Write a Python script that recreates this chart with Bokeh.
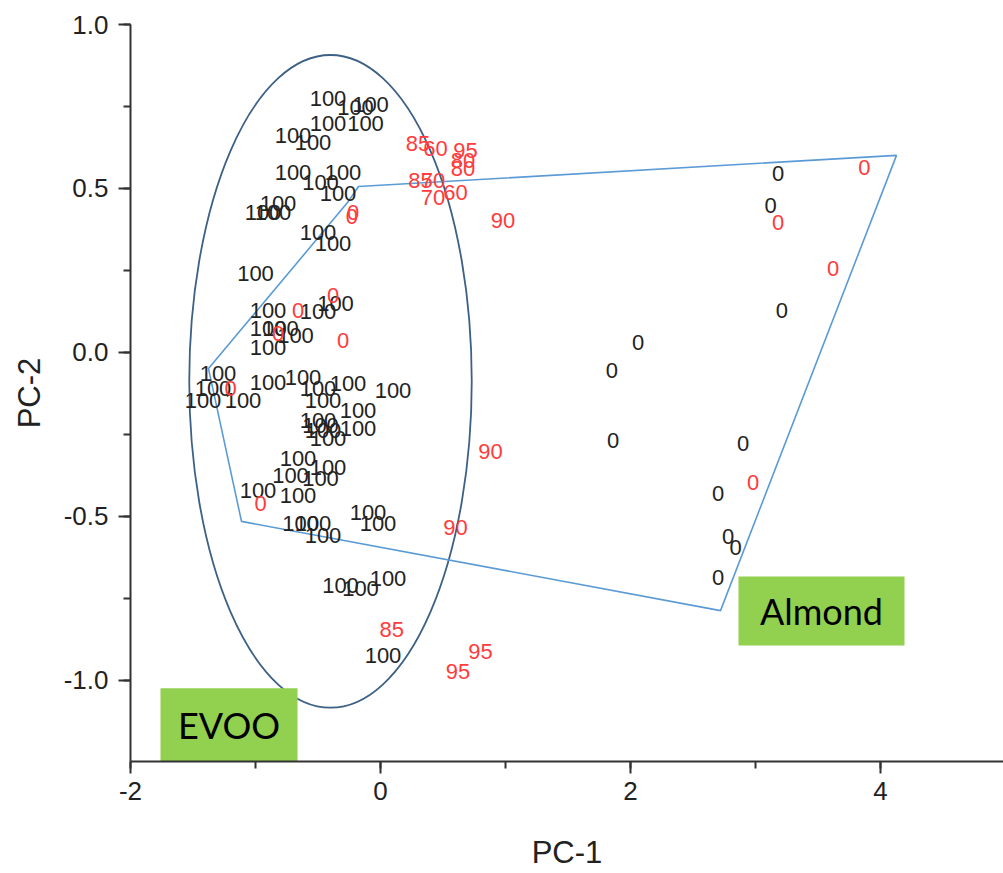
from bokeh.plotting import figure
from bokeh.models import SingleIntervalTicker, PrintfTickFormatter, ColumnDataSource
from bokeh.core.properties import value
from bokeh.embed import file_html
from bokeh.resources import INLINE

# Reference samples (black): EVOO = 100, almond = 0
ref_pc1 = [-0.42, -0.20, -0.08, -0.42, -0.12, -0.70, -0.54, -0.70, -0.30, -0.48,
           -0.34, -0.82, -0.94, -0.86, -0.50, -0.38, -1.00, -0.90, -0.50, -0.36,
           -0.90, -0.80, -0.68, -0.90, -1.30, -1.34, -1.42, -1.10, -0.90, -0.62,
           -0.50, -0.26, 0.10, -0.46, -0.18, -0.50, -0.18, -0.46, -0.42, -0.48,
           -0.66, -0.42, -0.72, -0.48, -0.98, -0.66, -0.64, -0.54, -0.46, -0.10,
           -0.02, -0.32, -0.16, 0.06, 0.02,
           3.18, 3.12, 3.21, 2.06, 1.85, 1.86, 2.90, 2.70, 2.78, 2.84, 2.70]
ref_pc2 = [0.774, 0.747, 0.756, 0.698, 0.698, 0.662, 0.640, 0.549, 0.549, 0.518,
           0.485, 0.454, 0.427, 0.427, 0.366, 0.332, 0.241, 0.128, 0.125, 0.149,
           0.073, 0.073, 0.052, 0.015, -0.064, -0.110, -0.146, -0.146, -0.091, -0.076,
           -0.110, -0.095, -0.116, -0.146, -0.177, -0.207, -0.232, -0.238, -0.262, -0.223,
           -0.323, -0.351, -0.375, -0.384, -0.421, -0.436, -0.521, -0.521, -0.558, -0.488,
           -0.521, -0.710, -0.720, -0.689, -0.924,
           0.546, 0.448, 0.128, 0.030, -0.055, -0.268, -0.277, -0.430, -0.561, -0.595, -0.686]
ref_label = ["100"] * 55 + ["0"] * 11

# Test samples (red): EVOO percentage in blends
test_pc1 = [0.30, 0.44, 0.68, 0.66, 0.66, 0.32, 0.42, 0.42, 0.60, -0.22,
            -0.23, 0.98, -0.38, -0.66, -0.82, -0.30, -1.20, 0.88, -0.96, 0.60,
            0.09, 0.80, 0.62, 3.87, 3.18, 3.62, 2.98]
test_pc2 = [0.637, 0.622, 0.616, 0.585, 0.561, 0.524, 0.524, 0.473, 0.488, 0.427,
            0.415, 0.402, 0.174, 0.128, 0.058, 0.037, -0.110, -0.302, -0.460, -0.534,
            -0.845, -0.912, -0.973, 0.564, 0.396, 0.256, -0.396]
test_label = ["85", "60", "95", "80", "80", "85", "70", "70", "60", "0",
              "0", "90", "0", "0", "0", "0", "0", "90", "0", "90",
              "85", "95", "95", "0", "0", "0", "0"]

# EVOO confidence ellipse (center, width, height) and almond hull
ell_pc1, ell_pc2, ell_w, ell_h = -0.40, -0.088, 2.26, 1.99
hull_pc1 = [-0.176, 4.128, 2.72, -1.112, -1.376, -0.264]
hull_pc2 = [0.506, 0.601, -0.787, -0.515, -0.049, 0.457]

# Class tags
tag_text = ["EVOO", "Almond"]
tag_left = [-1.76, 2.864]
tag_right = [-0.664, 4.192]
tag_top = [-1.024, -0.683]
tag_bottom = [-1.25, -0.893]

p = figure(width=1003, height=873, output_backend="svg", toolbar_location=None,
           x_range=(-2, 4.984), y_range=(-1.247, 1.0),
           min_border_left=130, min_border_right=0, min_border_top=24, min_border_bottom=112)
p.outline_line_color = None
p.xgrid.visible = False
p.ygrid.visible = False
p.background_fill_color = "white"

p.ellipse(x=ell_pc1, y=ell_pc2, width=ell_w, height=ell_h, fill_color=None,
          line_color="#3d6185", line_width=1.8)
p.patch(x=hull_pc1, y=hull_pc2, fill_alpha=0, line_color="#5b9bd5", line_width=1.6)

tags = ColumnDataSource(dict(l=tag_left, r=tag_right, t=tag_top, b=tag_bottom, txt=tag_text,
                             cx=[(a + b) / 2 for a, b in zip(tag_left, tag_right)],
                             cy=[(a + b) / 2 for a, b in zip(tag_top, tag_bottom)]))
p.quad(left="l", right="r", top="t", bottom="b", source=tags, fill_color="#92d050", line_color=None)
p.text(x="cx", y="cy", text="txt", source=tags, text_font=value("Lato"), text_font_size="36px",
       text_align="center", text_baseline="middle", text_color="black")

p.text(x=ref_pc1, y=ref_pc2, text=ref_label, text_font=value("Liberation Sans"),
       text_font_size="22px", text_align="center", text_baseline="middle", text_color="#222222")
p.text(x=test_pc1, y=test_pc2, text=test_label, text_font=value("Liberation Sans"),
       text_font_size="22px", text_align="center", text_baseline="middle", text_color="#ff3b3b")

for ax in (p.xaxis[0], p.yaxis[0]):
    ax.axis_line_color = "#333333"
    ax.axis_line_width = 2
    ax.major_tick_line_color = "#333333"
    ax.minor_tick_line_color = "#333333"
    ax.major_tick_line_width = 2
    ax.minor_tick_line_width = 2
    ax.major_tick_out = 12
    ax.major_tick_in = 0
    ax.minor_tick_out = 7
    ax.minor_tick_in = 0
    ax.major_label_text_font = "Liberation Sans"
    ax.major_label_text_font_size = "26px"
    ax.major_label_text_color = "#222222"
    ax.axis_label_text_font = "Liberation Sans"
    ax.axis_label_text_font_size = "31px"
    ax.axis_label_text_font_style = "normal"
    ax.axis_label_text_color = "#222222"

p.xaxis.ticker = SingleIntervalTicker(interval=2, num_minor_ticks=2)
p.yaxis.ticker = SingleIntervalTicker(interval=0.5, num_minor_ticks=2)
p.xaxis.formatter = PrintfTickFormatter(format="%d")
p.yaxis.formatter = PrintfTickFormatter(format="%.1f")
p.xaxis.axis_label = "PC-1"
p.yaxis.axis_label = "PC-2"
p.xaxis.major_label_standoff = 8
p.yaxis.major_label_standoff = 10
p.xaxis.axis_label_standoff = 32
p.yaxis.axis_label_standoff = 14

open("out.html", "w").write(file_html(p, INLINE))
